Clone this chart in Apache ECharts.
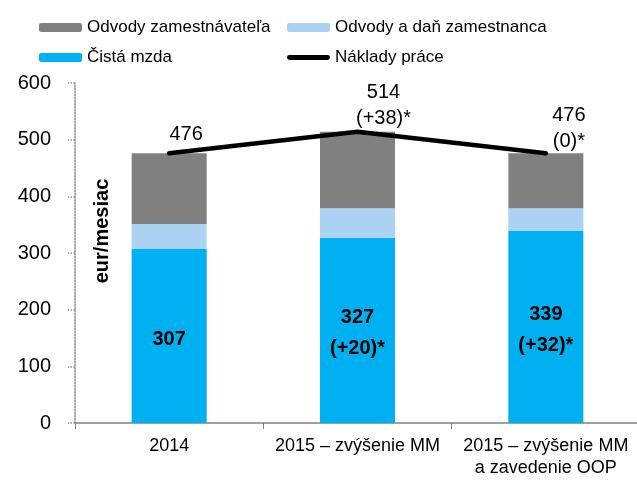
<!DOCTYPE html>
<html>
<head>
<meta charset="utf-8">
<script src="https://cdn.jsdelivr.net/npm/echarts@6/dist/echarts.min.js"></script>
<style>
html,body{margin:0;padding:0;background:#fff;}
#main{width:637px;height:490px;}
</style>
</head>
<body>
<div id="main"></div>
<script>
var categories = ['2014', '2015 – zvýšenie MM', '2015 – zvýšenie MM\na zavedenie OOP'];
var cistaMzda = [307, 327, 339];
var odvodyZamestnanca = [44, 52, 40];
var odvodyZamestnavatela = [125, 135, 97];
var nakladyPrace = [476, 514, 476];
var mzdaLabels = ['307', '327\n(+20)*', '339\n(+32)*'];
var nakladyLabels = ['476', '514\n(+38)*', '476\n(0)*'];
var yTicks = [0, 100, 200, 300, 400, 500, 600];

var font = '"Liberation Sans Narrow", "Arial Narrow", "Liberation Sans", sans-serif';
// posun popisov ciary
var lineLabelOffsets = [[17, 0], [26, 5], [23, 7]];

var chart = echarts.init(document.getElementById('main'));
var legendText = {fontFamily: font, fontSize: 17, color: '#000'};
var option = {
    animation: false,
    textStyle: {fontFamily: font, color: '#000'},
    grid: {left: 75, top: 83, width: 565, height: 340, outerBoundsMode: 'none', containLabel: false},
    legend: [
        {
            left: 34, top: 14, orient: 'vertical', itemGap: 13,
            itemWidth: 43, itemHeight: 9,
            textStyle: legendText,
            data: ['Odvody zamestnávateľa', 'Čistá mzda']
        },
        {
            left: 282, top: 14, orient: 'vertical', itemGap: 13,
            itemWidth: 43, itemHeight: 9,
            textStyle: legendText,
            data: ['Odvody a daň zamestnanca', {
                name: 'Náklady práce',
                icon: 'path://M2,0 L41,0 A2.5,2.5 0 0 1 41,5 L2,5 A2.5,2.5 0 0 1 2,0 Z'
            }]
        }
    ],
    xAxis: {
        type: 'category',
        data: categories,
        axisLine: {lineStyle: {color: '#808080', width: 1.5}},
        axisTick: {show: true, length: 6, lineStyle: {color: '#808080'}},
        axisLabel: {fontFamily: font, fontSize: 18, color: '#000', margin: 12, lineHeight: 22, interval: 0}
    },
    yAxis: {
        type: 'value',
        min: yTicks[0], max: yTicks[yTicks.length - 1], interval: 100,
        name: 'eur/mesiac',
        nameLocation: 'middle',
        nameGap: -37,
        nameMoveOverlap: false,
        nameTextStyle: {fontFamily: font, fontSize: 20, fontWeight: 'bold', color: '#000', padding: [0, 0, 0, 44]},
        axisLine: {show: true, lineStyle: {color: '#909090', type: 'dotted', width: 1.5}},
        axisTick: {show: true, length: 7, lineStyle: {color: '#909090', type: 'dotted', width: 1.5}},
        splitLine: {show: false},
        axisLabel: {fontFamily: font, fontSize: 20, color: '#000', margin: 24}
    },
    series: [
        {
            name: 'Čistá mzda', type: 'bar', stack: 'spolu', barWidth: 75,
            itemStyle: {color: '#00b0f0'},
            label: {
                show: true, position: 'inside', offset: [0, 3], fontFamily: font, fontSize: 20,
                fontWeight: 'bold', color: '#000', lineHeight: 31,
                formatter: function (p) { return mzdaLabels[p.dataIndex]; }
            },
            data: cistaMzda
        },
        {
            name: 'Odvody a daň zamestnanca', type: 'bar', stack: 'spolu', barWidth: 75,
            itemStyle: {color: '#abd2f2'},
            data: odvodyZamestnanca
        },
        {
            name: 'Odvody zamestnávateľa', type: 'bar', stack: 'spolu', barWidth: 75,
            itemStyle: {color: '#808080'},
            data: odvodyZamestnavatela
        },
        {
            name: 'Náklady práce', type: 'line', symbol: 'circle', symbolSize: 1, showSymbol: true, z: 5,
            lineStyle: {color: '#000', width: 4.5, cap: 'round'},
            itemStyle: {color: '#000'},
            data: nakladyPrace.map(function (v, i) {
                return {
                    value: v,
                    label: {
                        show: true, position: 'top', offset: lineLabelOffsets[i],
                        fontFamily: font, fontSize: 20, color: '#000', lineHeight: 26,
                        formatter: nakladyLabels[i]
                    }
                };
            })
        }
    ]
};
chart.setOption(option);
</script>
</body>
</html>
